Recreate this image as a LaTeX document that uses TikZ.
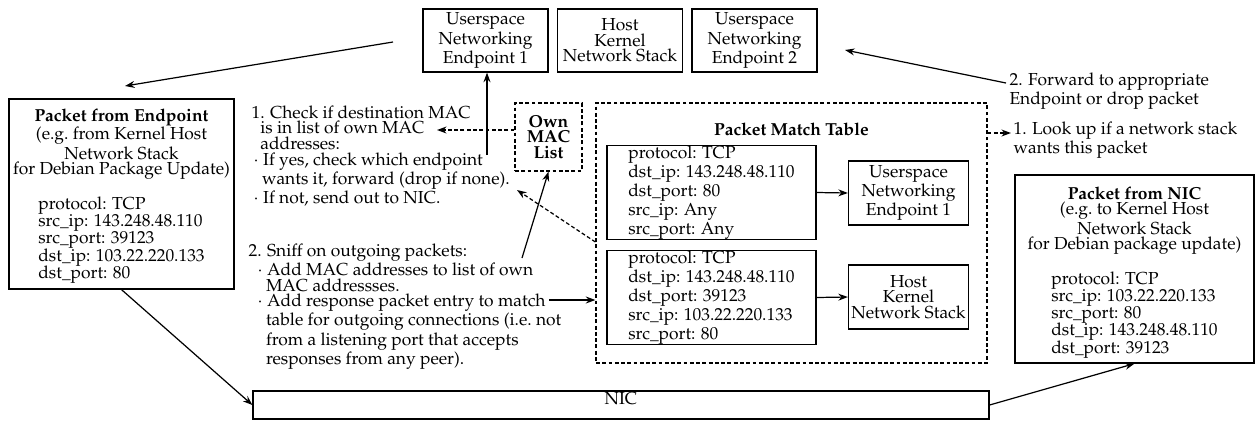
\documentclass[tikz,border=0pt]{standalone}
\usepackage[T1]{fontenc}
\usepackage{mathpazo}
\usetikzlibrary{arrows.meta,positioning,fit}

\newcommand{\unitpx}{0.575pt}

\begin{document}
\begin{tikzpicture}[x=0.575pt, y=-0.575pt,
        font=\fontsize{10}{9}\selectfont,
        line width=0.7pt,
        >={Stealth[length=5.5pt,width=4pt]},
        topbox/.style={draw, align=center, inner sep=0pt, minimum width=125*\unitpx, minimum height=63*\unitpx},
        innerbox/.style={draw, align=center, inner sep=0pt, minimum width=120*\unitpx, minimum height=64*\unitpx},
        entrybox/.style={draw, align=left, inner sep=0pt, minimum width=209*\unitpx, minimum height=91*\unitpx},
        dashbox/.style={draw, dash pattern=on 2.2pt off 1.4pt},
        dasharrow/.style={->, dash pattern=on 2.2pt off 1.4pt},
        note/.style={align=left, inner sep=0pt, anchor=north west},
        packettext/.style={align=center, inner sep=0pt, anchor=north}]
                \useasboundingbox (0,0) rectangle (1255,420);
                % Top row
                \node (ep1top) [topbox] at (485.5,40.5) {Userspace\\Networking\\Endpoint 1};
                \node (hosttop) [topbox] at (620,40.5) {Host\\Kernel\\Network Stack};
                \node (ep2top) [topbox] at (754.5,40.5) {Userspace\\Networking\\Endpoint 2};
                % Packet from Endpoint
                \node (pktep) [draw, fit={(9,99) (234,289)}, inner sep=0pt] {};
                \node (pkteptext) [packettext] at (121.5,108) {\textbf{Packet from Endpoint}\\
                    (e.g.\ from Kernel Host\\Network Stack\\for Debian Package Update)\\[9pt]
                    \begin{tabular}[t]{@{}l@{}}
                        protocol: TCP\\
                        src\_ip: 143.248.48.110\\
                        src\_port: 39123\\
                        dst\_ip: 103.22.220.133\\
                        dst\_port: 80
                    \end{tabular}};
                % Packet from NIC
                \node (pktnic) [draw, fit={(1015,175) (1254,363)}, inner sep=0pt] {};
                \node (pktnictext) [packettext] at (1134.5,186) {\textbf{Packet from NIC}\\
                    (e.g.\ to Kernel Host\\Network Stack\\for Debian package update)\\[9pt]
                    \begin{tabular}[t]{@{}l@{}}
                        protocol: TCP\\
                        src\_ip: 103.22.220.133\\
                        src\_port: 80\\
                        dst\_ip: 143.248.48.110\\
                        dst\_port: 39123
                    \end{tabular}};
                % NIC
                \node (nic) [draw, fit={(253,391) (989,419)}, inner sep=0pt] {NIC};
                % Notes on the left
                \node (check) [note] at (251,105) {1. Check if destination MAC\\
                    \hspace*{0.5em}is in list of own MAC\\
                    \hspace*{0.5em}addresses:\\
                    \hspace*{0.1em}$\cdot$ If yes, check which endpoint\\
                    \hspace*{0.6em}wants it, forward (drop if none).\\
                    \hspace*{0.1em}$\cdot$ If not, send out to NIC.};
                \node (sniff) [note] at (248,243) {2. Sniff on outgoing packets:\\
                    \hspace*{0.5em}$\cdot$ Add MAC addresses to list of own\\
                    \hspace*{1em}MAC addressses.\\
                    \hspace*{0.5em}$\cdot$ Add response packet entry to match\\
                    \hspace*{1em}table for outgoing connections (i.e.\ not\\
                    \hspace*{1em}from a listening port that accepts\\
                    \hspace*{1em}responses from any peer).};
                % Own MAC list
                \node (ownmac) [dashbox, align=center, inner sep=0pt, minimum width=67*\unitpx, minimum height=68*\unitpx]
                    at (548.5,137) {\textbf{Own}\\\textbf{MAC}\\\textbf{List}};
                % Packet match table
                \node (pmt) [dashbox, fit={(596,103) (987,363)}, inner sep=0pt] {};
                \node (pmttitle) [packettext] at (791.5,122) {\textbf{Packet Match Table}};
                \node (entry1) [entrybox] at (711.5,192.5) {protocol: TCP\\dst\_ip: 143.248.48.110\\dst\_port: 80\\src\_ip: Any\\src\_port: Any};
                \node (entry2) [entrybox] at (711.5,297.5) {protocol: TCP\\dst\_ip: 143.248.48.110\\dst\_port: 39123\\src\_ip: 103.22.220.133\\src\_port: 80};
                \node (epin) [innerbox] at (908.5,193) {Userspace\\Networking\\Endpoint 1};
                \node (hostin) [innerbox] at (908.5,297) {Host\\Kernel\\Network Stack};
                % Notes on the right
                \node (forward) [note] at (1009,72) {2. Forward to appropriate\\Endpoint or drop packet};
                \node (lookup) [note] at (1013,121) {1. Look up if a network stack\\wants this packet};
                % Free ends
                \coordinate (topout) at (393,42);
                \coordinate (pktin) at (125,86);
                \coordinate (checkup) at (487,155);
                \coordinate (macin) at (437,130);
                \coordinate (sniffmac) at (522,258);
                \coordinate (dropfrom) at (596,242);
                \coordinate (dropin) at (517,190);
                \coordinate (matchfrom) at (549,300);
                \coordinate (fwdfrom) at (1006,83);
                \coordinate (fwdtip) at (845,50);
                \coordinate (lookin) at (1011,133);
                % Connectors
                \draw [->] (topout) -- (pktin);
                \draw [->] (pktep.south) -- (nic.west);
                \draw [->] (nic.east) -- (pktnic.south);
                \draw [->] (checkup) -- (checkup |- ep1top.south);
                \draw [dasharrow] (ownmac.west |- macin) -- (macin);
                \draw [->] (sniffmac) -- (ownmac.south);
                \draw [dasharrow] (pmt.west |- dropfrom) -- (dropin);
                \draw [->] (matchfrom) -- (matchfrom -| pmt.west);
                \draw [->] (entry1.east) -- (epin.west);
                \draw [->] (entry2.east) -- (hostin.west);
                \draw [dasharrow] (pmt.east |- lookin) -- (lookin);
                \draw [->] (fwdfrom) -- (fwdtip);
\end{tikzpicture}
\end{document}
